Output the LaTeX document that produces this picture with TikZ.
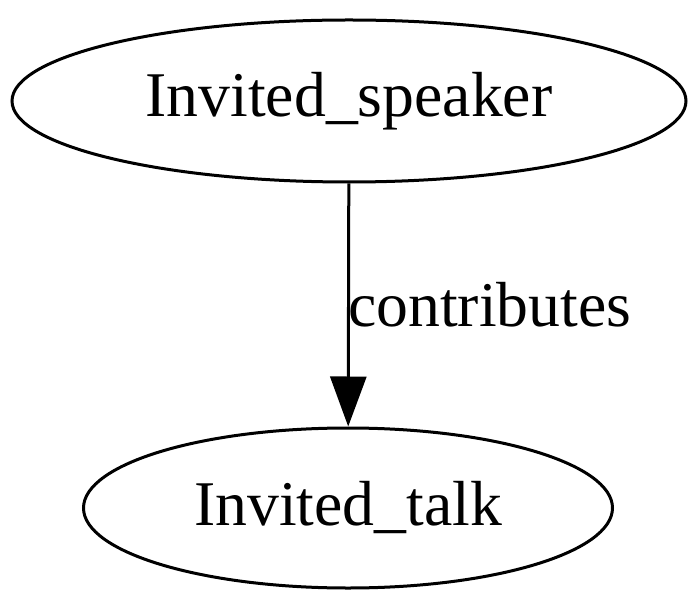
\documentclass[tikz,border=0pt]{standalone}
\usepackage{fontspec}
\setmainfont{Liberation Serif}
\usetikzlibrary{shapes.geometric,arrows.meta}
\begin{document}
\begin{tikzpicture}[x=1pt,y=1pt,
  ell/.style={draw, ellipse, line width=3pt, inner sep=0pt, font=\fontsize{63.7}{76}\selectfont},
  edge/.style={draw, line width=3pt, -{Triangle[length=50pt,width=36pt]}},
  lbl/.style={font=\fontsize{63.7}{76}\selectfont, inner sep=0pt}]
\useasboundingbox (0,0) rectangle (700,608);
\node[ell, minimum width=674pt, minimum height=162pt] (sp) at (349,507) {Invited\_speaker};
\node[ell, minimum width=529pt, minimum height=160pt] (tk) at (348,100) {Invited\_talk};
\draw[edge] (sp) -- (tk);
\node[lbl, anchor=west] (lab) at (348,303) {contributes};
\end{tikzpicture}
\end{document}
